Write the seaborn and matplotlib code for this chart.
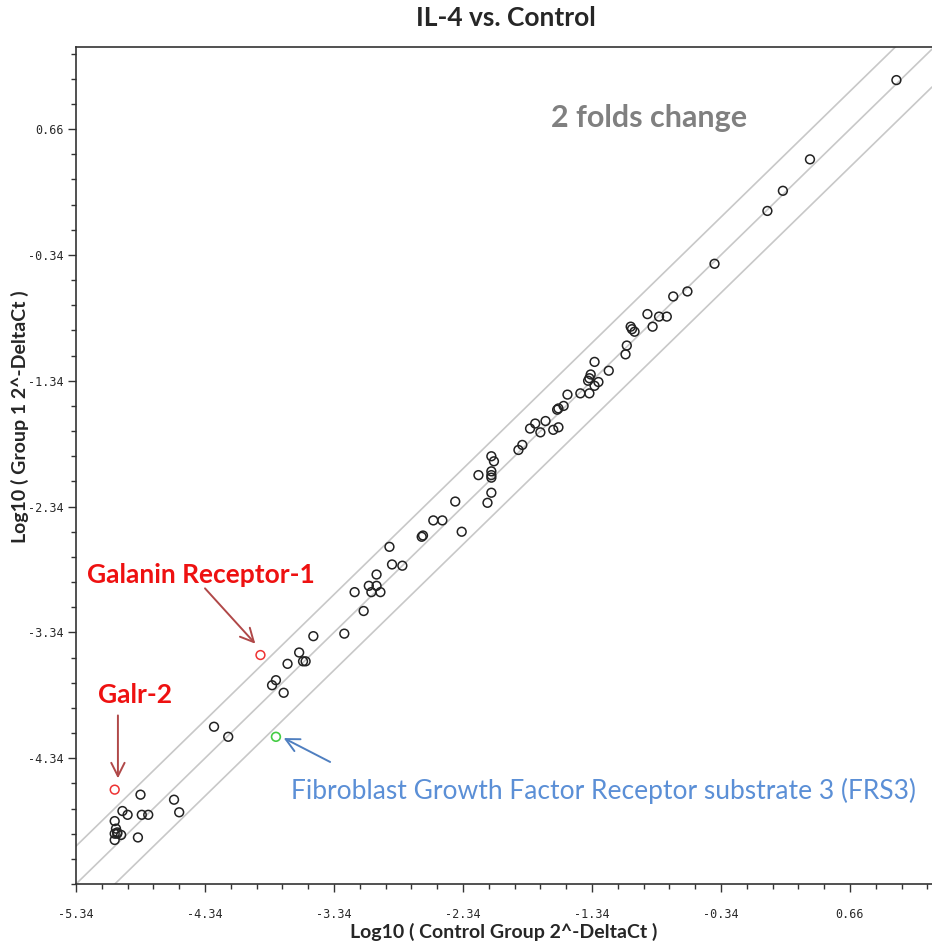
import numpy as np
import seaborn as sns
import matplotlib.pyplot as plt
from matplotlib.ticker import FixedLocator, MultipleLocator

# log10 2^-DeltaCt, control (x) vs IL-4 group (y)
control = [1.02, 0.35, 0.14, 0.02, -0.39, -0.60, -0.71, -0.91, -0.82, -0.76,
           -0.87, -1.04, -1.03, -1.01, -1.07, -1.08, -1.32, -1.21, -1.35, -1.36,
           -1.37, -1.29, -1.32, -1.43, -1.36, -1.53, -1.56, -1.60, -1.61, -1.70,
           -1.60, -1.64, -1.74, -1.78, -1.82, -1.88, -1.91, -2.12, -2.10, -2.12,
           -2.12, -2.12, -2.22, -2.12, -2.15, -2.40, -2.57, -2.50, -2.35, -2.65,
           -2.66, -2.91, -2.89, -2.81, -3.01, -3.07, -3.01, -3.05, -2.98, -3.18,
           -3.11, -3.26, -3.50, -3.61, -3.58, -3.56, -3.70, -3.79, -3.82, -3.73,
           -4.27, -4.16, -4.84, -4.58, -4.54, -4.98, -4.94, -4.83, -4.78, -5.04,
           -5.03, -5.02, -5.04, -4.99, -5.02, -4.86, -5.04]
group1 = [1.05, 0.42, 0.17, 0.01, -0.41, -0.63, -0.67, -0.81, -0.83, -0.83,
          -0.91, -0.91, -0.93, -0.95, -1.06, -1.13, -1.19, -1.26, -1.29, -1.32,
          -1.34, -1.35, -1.38, -1.44, -1.44, -1.45, -1.54, -1.56, -1.57, -1.66,
          -1.71, -1.73, -1.75, -1.68, -1.72, -1.85, -1.89, -1.94, -1.98, -2.06,
          -2.09, -2.11, -2.09, -2.23, -2.31, -2.30, -2.45, -2.45, -2.54, -2.57,
          -2.58, -2.66, -2.80, -2.81, -2.88, -2.97, -2.97, -3.02, -3.02, -3.02,
          -3.17, -3.35, -3.37, -3.50, -3.57, -3.57, -3.59, -3.72, -3.76, -3.82,
          -4.09, -4.17, -4.63, -4.67, -4.77, -4.76, -4.79, -4.79, -4.79, -4.84,
          -4.90, -4.93, -4.94, -4.95, -4.94, -4.97, -4.99]

# highlighted genes
galr1 = (-3.91, -3.52)
galr2 = (-5.04, -4.59)
frs3 = (-3.79, -4.17)

fold = 2
ticks = [-5.34, -4.34, -3.34, -2.34, -1.34, -0.34, 0.66]

sns.set_style("white")
plt.rcParams["font.family"] = ["Lato", "DejaVu Sans"]

fig = plt.figure(figsize=(9.32, 9.43), dpi=100)
ax = fig.add_axes([76 / 932, 1 - 884 / 943, 856 / 932, 837 / 943])

off = np.log10(fold)
for b in (off, 0, -off):
    ax.axline((0, b), slope=1, color="#c8c8c8", lw=1.2, zorder=1)

sns.scatterplot(x=control, y=group1, ax=ax, s=40, marker="o",
                facecolors="none", edgecolor="#222222", linewidth=1.1, zorder=3)
sns.scatterplot(x=[galr1[0], galr2[0]], y=[galr1[1], galr2[1]], ax=ax, s=40,
                facecolors="none", edgecolor="#ee3333", linewidth=1.1, zorder=3)
sns.scatterplot(x=[frs3[0]], y=[frs3[1]], ax=ax, s=40,
                facecolors="none", edgecolor="#44cc44", linewidth=1.2, zorder=3)

ax.set_xlim(-5.34, 1.296)
ax.set_ylim(-5.34, 1.313)
ax.xaxis.set_major_locator(FixedLocator(ticks))
ax.yaxis.set_major_locator(FixedLocator(ticks[1:]))
ax.xaxis.set_minor_locator(MultipleLocator(0.2, offset=-5.34))
ax.yaxis.set_minor_locator(MultipleLocator(0.2, offset=-5.34))
ax.set_xticklabels([f"{t:.2f}" for t in ticks])
ax.set_yticklabels([f"{t:.2f}" for t in ticks[1:]])
ax.tick_params(which="both", direction="out", bottom=True, left=True,
               color="#333333", width=1.0, labelsize=8.5, labelcolor="#2a2a2a")
ax.tick_params(which="major", length=6, pad=11)
ax.tick_params(which="minor", length=3.5)
for lab in ax.get_xticklabels() + ax.get_yticklabels():
    lab.set_family("DejaVu Sans Mono")
ax.tick_params(axis="y", pad=3)
for side in ("left", "bottom", "top"):
    ax.spines[side].set_color("#333333")
    ax.spines[side].set_linewidth(1.2)
ax.spines["right"].set_visible(False)

ax.set_xlabel("Log10 ( Control Group 2^-DeltaCt )", fontsize=14, fontweight="bold",
              labelpad=2)
ax.set_ylabel("Log10 ( Group 1 2^-DeltaCt )", fontsize=14, fontweight="bold")
ax.yaxis.set_label_coords(-0.055, 0.558)

fig.text(0.543, 0.981, "IL-4 vs. Control", ha="center", va="center",
         fontsize=19, fontweight="bold")

ax.text(-0.90, 0.75, "2 folds change", ha="center", va="center", fontsize=22,
        fontweight="bold", color="#808080")

red_arrow = dict(arrowstyle="->", color="#b04848", lw=1.4, shrinkA=0, shrinkB=0,
                 mutation_scale=24)
ax.text(-4.37, -2.88, "Galanin Receptor-1", ha="center", va="center",
        fontsize=19, fontweight="bold", color="#ee1111")
ax.annotate("", xy=(-3.95, -3.43), xytext=(-4.34, -2.99), arrowprops=red_arrow)
ax.text(-4.88, -3.84, "Galr-2", ha="center", va="center",
        fontsize=19, fontweight="bold", color="#ee1111")
ax.annotate("", xy=(-5.015, -4.50), xytext=(-5.015, -4.00), arrowprops=red_arrow)
ax.annotate("", xy=(-3.73, -4.18), xytext=(-3.37, -4.37),
            arrowprops=dict(arrowstyle="->", color="#4f7fc0", lw=1.4,
                            shrinkA=0, shrinkB=0, mutation_scale=24))
ax.text(-3.67, -4.60, "Fibroblast Growth Factor Receptor substrate 3 (FRS3)",
        ha="left", va="center", fontsize=19, color="#5b8fd6")

fig.savefig("out.png", dpi=100)
